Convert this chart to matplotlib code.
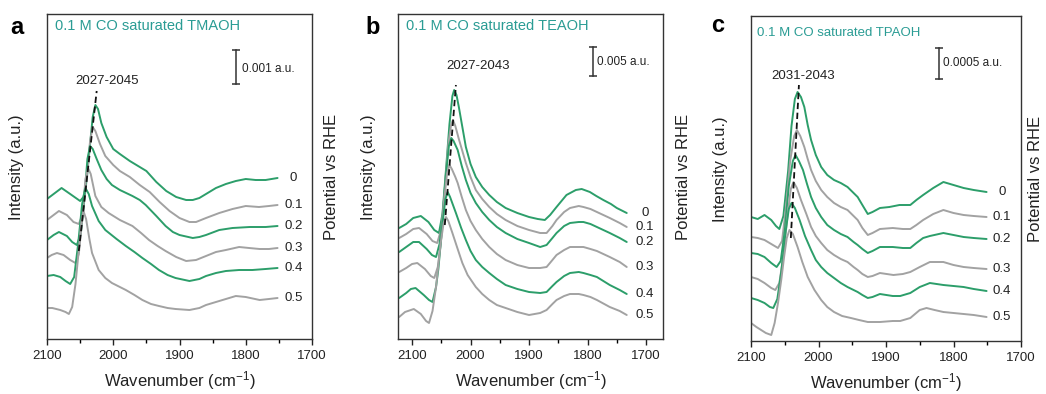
import matplotlib.pyplot as plt
from matplotlib.ticker import MultipleLocator

plt.rcParams["font.family"] = ["Liberation Sans", "DejaVu Sans"]
plt.rcParams["mathtext.default"] = "regular"

GREEN = "#2c9e6a"
GRAY = "#a2a2a2"
TEAL = "#2a9c94"

POTENTIALS = ["0", "0.1", "0.2", "0.3", "0.4", "0.5"]

# panel a, TMAOH: (wavenumber / cm-1, intensity / arb. offset)
TMAOH_00 = [(2100, 140), (2090, 145), (2078, 151), (2065, 145), (2050, 138), (2045, 142), (2040, 160),
            (2035, 195), (2031, 222), (2027, 234), (2023, 230), (2018, 216), (2010, 202), (2000, 190),
            (1990, 185), (1975, 178), (1960, 172), (1950, 168), (1935, 157), (1920, 148), (1905, 142),
            (1890, 139), (1880, 139), (1870, 141), (1860, 145), (1845, 151), (1830, 155), (1815, 158),
            (1800, 160), (1785, 159), (1770, 159), (1752, 161)]
TMAOH_01 = [(2100, 119), (2090, 124), (2082, 128), (2070, 124), (2060, 117), (2052, 115), (2046, 125),
            (2040, 160), (2035, 198), (2031, 212), (2027, 208), (2020, 195), (2012, 183), (2000, 174),
            (1990, 168), (1975, 162), (1960, 154), (1945, 147), (1930, 137), (1915, 128), (1900, 121),
            (1885, 117), (1875, 117), (1860, 121), (1840, 126), (1820, 130), (1800, 133), (1780, 132),
            (1765, 133), (1752, 134)]
TMAOH_02 = [(2100, 99), (2090, 104), (2082, 107), (2070, 103), (2062, 97), (2055, 94), (2049, 105),
            (2043, 145), (2039, 180), (2035, 193), (2031, 190), (2025, 180), (2018, 169), (2010, 160),
            (2002, 154), (1990, 149), (1971, 143), (1960, 139), (1951, 134), (1935, 123), (1921, 113),
            (1910, 107), (1900, 104), (1880, 101), (1870, 102), (1860, 104), (1840, 109), (1820, 111),
            (1794, 112), (1770, 112), (1752, 113)]
TMAOH_03 = [(2100, 81), (2093, 84), (2085, 86), (2075, 84), (2065, 79), (2057, 76), (2052, 85),
            (2046, 125), (2042, 160), (2038, 171), (2034, 165), (2027, 143), (2018, 132), (2007, 126),
            (1990, 119), (1971, 113), (1958, 106), (1946, 99), (1933, 93), (1921, 88), (1905, 82),
            (1890, 78), (1875, 79), (1860, 83), (1845, 87), (1830, 89), (1810, 92), (1795, 91),
            (1779, 90), (1765, 90), (1752, 91)]
TMAOH_04 = [(2100, 63), (2090, 64), (2080, 62), (2072, 58), (2065, 55), (2059, 62), (2053, 95),
            (2047, 135), (2042, 151), (2037, 145), (2032, 133), (2022, 118), (2012, 109), (1995, 100),
            (1981, 93), (1968, 87), (1956, 81), (1943, 75), (1931, 69), (1918, 64), (1906, 61),
            (1885, 58), (1870, 60), (1860, 63), (1845, 66), (1830, 68), (1810, 69), (1790, 69),
            (1770, 70), (1752, 71)]
TMAOH_05 = [(2100, 31), (2092, 31), (2080, 29), (2072, 27), (2067, 25), (2062, 32), (2057, 55),
            (2052, 89), (2048, 118), (2045, 128), (2041, 120), (2036, 100), (2032, 86), (2022, 69),
            (2012, 61), (2002, 56), (1990, 52), (1981, 49), (1968, 44), (1956, 39), (1943, 35),
            (1931, 33), (1918, 31), (1906, 30), (1885, 29), (1870, 31), (1860, 34), (1845, 37),
            (1830, 40), (1815, 43), (1800, 42), (1779, 39), (1765, 40), (1752, 41)]
TMAOH_TREND = [(2052, 88), (2025, 248)]
TMAOH_SCALE = [(1815, 255), (1815, 289)]

# panel b, TEAOH
TEAOH_00 = [(2122, 111), (2110, 115), (2098, 121), (2085, 123), (2072, 117), (2062, 109), (2054, 106),
            (2048, 125), (2042, 169), (2036, 215), (2031, 243), (2028, 249), (2024, 244), (2020, 232),
            (2014, 212), (2008, 192), (2000, 175), (1991, 162), (1980, 152), (1968, 144), (1955, 137),
            (1940, 131), (1920, 126), (1900, 122), (1885, 120), (1873, 119), (1864, 124), (1853, 132),
            (1836, 144), (1820, 149), (1810, 150), (1796, 147), (1785, 143), (1773, 139), (1760, 135),
            (1750, 131), (1733, 126)]
TEAOH_01 = [(2122, 101), (2110, 105), (2098, 110), (2088, 111), (2075, 105), (2065, 98), (2057, 96),
            (2050, 110), (2044, 150), (2038, 195), (2033, 215), (2030, 219), (2026, 213), (2020, 200),
            (2014, 188), (2008, 176), (2000, 162), (1991, 149), (1980, 140), (1968, 132), (1955, 125),
            (1940, 119), (1920, 113), (1900, 109), (1881, 106), (1870, 106), (1860, 113), (1853, 119),
            (1840, 127), (1830, 131), (1815, 133), (1807, 132), (1795, 130), (1784, 127), (1762, 121),
            (1745, 116), (1733, 112)]
TEAOH_02 = [(2122, 87), (2110, 92), (2098, 97), (2088, 97), (2075, 90), (2066, 84), (2059, 82),
            (2053, 95), (2048, 120), (2042, 165), (2037, 193), (2033, 201), (2029, 198), (2022, 189),
            (2015, 173), (2008, 159), (2000, 146), (1991, 136), (1980, 127), (1968, 119), (1955, 112),
            (1940, 106), (1920, 100), (1900, 96), (1881, 92), (1870, 94), (1860, 101), (1853, 106),
            (1840, 113), (1830, 116), (1815, 117), (1807, 117), (1795, 115), (1784, 112), (1762, 106),
            (1745, 101), (1733, 97)]
TEAOH_03 = [(2122, 67), (2110, 71), (2100, 75), (2091, 76), (2078, 70), (2068, 63), (2062, 61),
            (2056, 72), (2051, 95), (2045, 140), (2040, 166), (2036, 174), (2032, 170), (2026, 162),
            (2022, 156), (2015, 142), (2008, 129), (2000, 118), (1991, 109), (1980, 100), (1968, 92),
            (1955, 85), (1940, 79), (1920, 74), (1900, 71), (1881, 71), (1870, 72), (1860, 79),
            (1853, 84), (1840, 89), (1830, 92), (1815, 92), (1807, 92), (1795, 90), (1784, 88),
            (1762, 82), (1745, 77), (1733, 72)]
TEAOH_04 = [(2122, 41), (2110, 46), (2102, 50), (2094, 51), (2080, 44), (2071, 39), (2065, 37),
            (2059, 52), (2055, 70), (2048, 115), (2043, 140), (2039, 147), (2035, 142), (2030, 134),
            (2025, 126), (2016, 111), (2008, 99), (2000, 88), (1991, 79), (1980, 72), (1968, 66),
            (1955, 60), (1940, 54), (1920, 50), (1900, 47), (1881, 46), (1870, 47), (1860, 53),
            (1853, 57), (1840, 63), (1830, 66), (1815, 67), (1807, 66), (1795, 64), (1784, 62),
            (1762, 54), (1745, 49), (1733, 45)]
TEAOH_05 = [(2122, 22), (2112, 27), (2097, 30), (2085, 25), (2076, 18), (2071, 16), (2065, 28),
            (2059, 52), (2051, 96), (2046, 116), (2042, 122), (2038, 118), (2031, 106), (2022, 90),
            (2014, 76), (2005, 64), (1991, 52), (1980, 45), (1968, 39), (1955, 34), (1940, 31),
            (1920, 27), (1900, 24), (1881, 26), (1870, 29), (1860, 35), (1853, 39), (1840, 43),
            (1830, 45), (1815, 45), (1807, 44), (1795, 42), (1784, 39), (1762, 32), (1745, 28),
            (1733, 24)]
TEAOH_TREND = [(2044, 114), (2025, 254)]
TEAOH_SCALE = [(1791, 263), (1791, 292)]

# panel c, TPAOH
TPAOH_00 = [(2100, 124), (2090, 122), (2080, 126), (2070, 121), (2063, 115), (2058, 112), (2052, 125),
            (2045, 170), (2040, 215), (2035, 242), (2031, 249), (2026, 244), (2021, 234), (2016, 216),
            (2011, 201), (2004, 186), (1996, 174), (1987, 166), (1977, 161), (1967, 158), (1957, 154),
            (1948, 148), (1942, 144), (1935, 136), (1927, 127), (1920, 129), (1909, 133), (1895, 134),
            (1880, 136), (1870, 136), (1864, 136), (1855, 141), (1845, 146), (1830, 153), (1815, 159),
            (1800, 156), (1785, 153), (1770, 151), (1751, 149)]
TPAOH_01 = [(2100, 104), (2090, 103), (2080, 101), (2070, 97), (2060, 93), (2054, 100), (2048, 135),
            (2042, 180), (2036, 205), (2032, 211), (2027, 205), (2021, 194), (2016, 182), (2011, 171),
            (2004, 160), (1996, 151), (1987, 144), (1977, 138), (1967, 134), (1957, 131), (1948, 125),
            (1942, 121), (1935, 113), (1927, 106), (1920, 108), (1909, 112), (1890, 113), (1875, 112),
            (1864, 112), (1855, 116), (1845, 121), (1830, 127), (1815, 131), (1800, 128), (1785, 126),
            (1770, 125), (1751, 124)]
TPAOH_02 = [(2100, 88), (2090, 87), (2080, 84), (2070, 78), (2062, 74), (2056, 80), (2050, 110),
            (2044, 155), (2038, 180), (2034, 186), (2029, 180), (2023, 171), (2017, 157), (2011, 144),
            (2004, 133), (1996, 124), (1987, 116), (1977, 111), (1967, 107), (1957, 104), (1948, 99),
            (1942, 96), (1935, 92), (1927, 88), (1920, 90), (1909, 94), (1890, 94), (1875, 93),
            (1864, 93), (1855, 98), (1845, 103), (1835, 105), (1815, 108), (1800, 106), (1785, 104),
            (1770, 103), (1751, 102)]
TPAOH_03 = [(2100, 64), (2090, 62), (2080, 58), (2070, 53), (2064, 51), (2058, 58), (2052, 85),
            (2046, 125), (2041, 152), (2037, 159), (2032, 153), (2026, 141), (2018, 127), (2011, 114),
            (2004, 105), (1996, 98), (1987, 91), (1977, 86), (1967, 82), (1957, 79), (1948, 74),
            (1942, 71), (1935, 67), (1927, 64), (1920, 65), (1909, 68), (1889, 66), (1875, 67),
            (1864, 69), (1850, 74), (1835, 79), (1815, 79), (1800, 76), (1785, 74), (1770, 73),
            (1751, 72)]
TPAOH_04 = [(2100, 43), (2090, 41), (2080, 38), (2072, 34), (2067, 33), (2061, 42), (2055, 70),
            (2049, 108), (2044, 132), (2040, 138), (2035, 133), (2028, 121), (2020, 105), (2011, 91),
            (2004, 81), (1996, 74), (1987, 68), (1977, 63), (1967, 58), (1957, 54), (1948, 51),
            (1942, 49), (1935, 46), (1927, 43), (1920, 44), (1909, 47), (1890, 45), (1879, 45),
            (1864, 48), (1850, 54), (1835, 58), (1815, 56), (1800, 55), (1785, 54), (1770, 52),
            (1751, 50)]
TPAOH_05 = [(2100, 18), (2092, 14), (2085, 11), (2078, 8), (2070, 6), (2065, 18), (2060, 38),
            (2055, 62), (2051, 84), (2047, 103), (2043, 111), (2038, 107), (2031, 94), (2024, 79),
            (2016, 64), (2006, 51), (1996, 41), (1987, 34), (1977, 29), (1965, 25), (1952, 23),
            (1940, 21), (1927, 19), (1909, 19), (1890, 20), (1879, 20), (1864, 23), (1850, 31),
            (1840, 33), (1828, 31), (1815, 29), (1800, 28), (1785, 27), (1770, 26), (1751, 24)]
TPAOH_TREND = [(2041, 103), (2029, 256)]
TPAOH_SCALE = [(1822, 262), (1822, 293)]

W, H = 1046, 394

panels = [
    dict(letter="a", letter_xy=(17, 27), rect=(47, 14, 265, 325), xlim=(2100, 1700),
         title="0.1 M CO saturated TMAOH", title_xy=(0.03, 0.963), title_fs=10.5,
         curves=[TMAOH_00, TMAOH_01, TMAOH_02, TMAOH_03, TMAOH_04, TMAOH_05],
         trend=TMAOH_TREND, peaks="2027-2045", peaks_xy=(2009, 258),
         scale=TMAOH_SCALE, scale_text="0.001 a.u.", scale_xy=(1806, 270),
         label_dx=11.5, right_dx=20),
    dict(letter="b", letter_xy=(373, 27), rect=(398, 14, 265, 325), xlim=(2124, 1671),
         title="0.1 M CO saturated TEAOH", title_xy=(0.03, 0.963), title_fs=10.5,
         curves=[TEAOH_00, TEAOH_01, TEAOH_02, TEAOH_03, TEAOH_04, TEAOH_05],
         trend=TEAOH_TREND, peaks="2027-2043", peaks_xy=(1987, 273),
         scale=TEAOH_SCALE, scale_text="0.005 a.u.", scale_xy=(1783, 277),
         label_dx=13, right_dx=20),
    dict(letter="c", letter_xy=(718, 25), rect=(751, 16, 270, 325), xlim=(2100, 1700),
         title="0.1 M CO saturated TPAOH", title_xy=(0.022, 0.948), title_fs=9.5,
         curves=[TPAOH_00, TPAOH_01, TPAOH_02, TPAOH_03, TPAOH_04, TPAOH_05],
         trend=TPAOH_TREND, peaks="2031-2043", peaks_xy=(2023, 265),
         scale=TPAOH_SCALE, scale_text="0.0005 a.u.", scale_xy=(1815, 278),
         label_dx=11, right_dx=15),
]

colors = [GREEN, GRAY, GREEN, GRAY, GREEN, GRAY]

fig = plt.figure(figsize=(W / 100, H / 100), dpi=100)

for p in panels:
    left, top, width, height = p["rect"]
    ax = fig.add_axes([left / W, 1 - (top + height) / H, width / W, height / H])

    for curve, color, pot in zip(p["curves"], colors, POTENTIALS):
        wn = [c[0] for c in curve]
        inten = [c[1] for c in curve]
        ax.plot(wn, inten, color=color, lw=1.4, solid_capstyle="round", solid_joinstyle="round")
        ax.annotate(pot, xy=(wn[-1], inten[-1]), xytext=(p["label_dx"], 0),
                    textcoords="offset points", ha="center", va="center",
                    fontsize=9.5, color="#222222")

    tx = [t[0] for t in p["trend"]]
    ty = [t[1] for t in p["trend"]]
    ax.plot(tx, ty, color="#111111", lw=1.3, ls=(0, (3.5, 2)))
    ax.text(*p["peaks_xy"], p["peaks"], ha="center", va="center", fontsize=9.5, color="#222222")

    sx = [s[0] for s in p["scale"]]
    sy = [s[1] for s in p["scale"]]
    ax.plot(sx, sy, color="#333333", lw=1.1, marker="_", ms=6, mew=1.1)
    ax.text(*p["scale_xy"], p["scale_text"], ha="left", va="center", fontsize=8.5, color="#222222")

    ax.text(*p["title_xy"], p["title"], transform=ax.transAxes, ha="left", va="center",
            fontsize=p["title_fs"], color=TEAL)

    ax.set_xlim(*p["xlim"])
    ax.set_ylim(0, 325)
    ax.xaxis.set_major_locator(MultipleLocator(100))
    ax.xaxis.set_minor_locator(MultipleLocator(50))
    ax.tick_params(axis="x", which="major", direction="out", length=4, width=1, pad=4,
                   labelsize=9.5, colors="#222222")
    ax.tick_params(axis="x", which="minor", direction="out", length=3, width=1)
    ax.set_yticks([])
    for s in ax.spines.values():
        s.set_linewidth(1.0)
        s.set_color("#333333")

    ax.text(0.5, -42 / 325, "Wavenumber (cm$^{-1}$)", transform=ax.transAxes,
            ha="center", va="center", fontsize=12, color="#222222")
    ax.text(-30 / width, 0.53, "Intensity (a.u.)", transform=ax.transAxes, rotation=90,
            ha="center", va="center", fontsize=12, color="#222222")
    ax.text(1 + p["right_dx"] / width, 0.5, "Potential vs RHE", transform=ax.transAxes,
            rotation=90, ha="center", va="center", fontsize=12, color="#222222")

    lx, ly = p["letter_xy"]
    fig.text(lx / W, 1 - ly / H, p["letter"], ha="center", va="center",
             fontsize=17, fontweight="bold", color="black")

fig.savefig("out.png", dpi=100)
